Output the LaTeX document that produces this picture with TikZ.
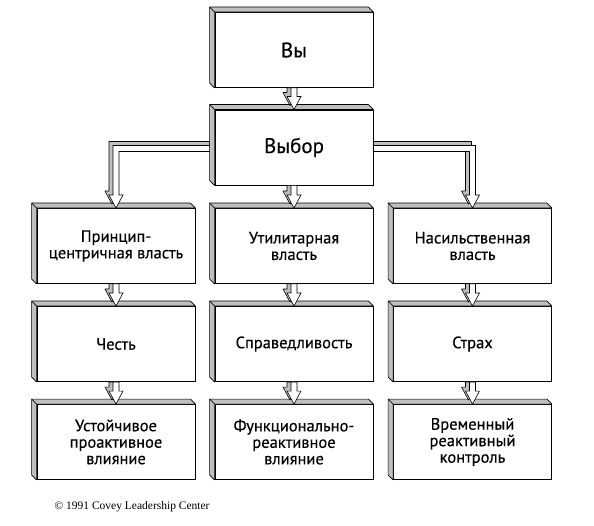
\documentclass[tikz,border=0pt]{standalone}
\usepackage{fontspec}
\setmainfont{PT Sans}
\newfontfamily\notefont{Liberation Serif}
\usetikzlibrary{calc}
\definecolor{shade}{gray}{0.75}
\tikzset{
  card/.style={draw, fill=white, line width=0.9pt, minimum width=158pt, minimum height=75pt,
    inner sep=2pt, align=center, font=\fontsize{16.5}{16.5}\selectfont\addfontfeatures{FakeBold=0.3}},
  bigcard/.style={card, font=\fontsize{21}{22}\selectfont\addfontfeatures{FakeBold=0.3}},
  bevel/.style={draw, fill=shade, line width=0.6pt, line join=round},
  face/.style={draw, fill=white, line width=0.6pt}
}
\begin{document}
\begin{tikzpicture}[x=1pt, y=1pt]
  \useasboundingbox (0,0) rectangle (594,525);

  % You and the choice
  \node[bigcard] (you) at (294,475) {Вы};
  \node[bigcard] (choice) at (294,377.5) {Выбор};

  % Three kinds of power
  \node[card] (princ) at (116,279) {Принцип-\\центричная власть};
  \node[card] (util) at (294,279) {Утилитарная\\власть};
  \node[card] (force) at (472.5,279) {Насильственная\\власть};

  % What the followers feel
  \node[card] (honor) at (116,181) {Честь};
  \node[card] (justice) at (294,181) {Справедливость};
  \node[card] (fear) at (472.5,181) {Страх};

  % Result
  \node[card] (proact) at (116,83) {Устойчивое\\проактивное\\влияние};
  \node[card] (funct) at (294,83) {Функционально-\\реактивное\\влияние};
  \node[card] (control) at (472.5,83) {Временный\\реактивный\\контроль};

  % Raised edges of the boxes
  \foreach \n in {you, choice, princ, util, force, honor, justice, fear, proact, funct, control} {
    \filldraw[bevel] (\n.north west) -- ++(-5,5) -- ([shift={(-5,5)}]\n.north east) -- (\n.north east) -- cycle;
    \filldraw[bevel] (\n.north west) -- ++(-5,5) -- ([shift={(-5,5)}]\n.south west) -- (\n.south west) -- cycle;
  }

  % Straight hollow arrows
  \foreach \a/\b in {you/choice, choice/util, princ/honor, util/justice, force/fear,
                     honor/proact, justice/funct, fear/control} {
    \coordinate (s) at (\a.south);
    \coordinate (t) at (\b.north);
    \filldraw[bevel] ($(s)+(-7,0)$) -- ($(t)+(-7,17)$) -- ($(t)+(-11,17)$) -- ($(t)+(-4,4)$)
      -- ($(t)+(3,17)$) -- ($(t)+(-1,17)$) -- ($(s)+(-1,0)$) -- cycle;
    \filldraw[face] ($(s)+(-3,0)$) -- ($(t)+(-3,13)$) -- ($(t)+(-7,13)$) -- (t)
      -- ($(t)+(7,13)$) -- ($(t)+(3,13)$) -- ($(s)+(3,0)$) -- cycle;
  }

  % Bent arrow to the left column
  \coordinate (s) at ($(choice.west)+(-5,-1)$);
  \coordinate (t) at (princ.north);
  \coordinate (c) at (t |- s);
  \filldraw[bevel] ($(s)+(0,7)$) -- ($(c)+(-7,7)$) -- ($(t)+(-7,17)$) -- ($(t)+(-11,17)$)
    -- ($(t)+(-4,4)$) -- ($(t)+(3,17)$) -- ($(t)+(-1,17)$) -- ($(c)+(-1,1)$) -- ($(s)+(0,1)$) -- cycle;
  \filldraw[face] ($(s)+(0,3)$) -- ($(c)+(-3,3)$) -- ($(t)+(-3,13)$) -- ($(t)+(-7,13)$) -- (t)
    -- ($(t)+(7,13)$) -- ($(t)+(3,13)$) -- ($(c)+(3,-3)$) -- ($(s)+(0,-3)$) -- cycle;

  % Bent arrow to the right column
  \coordinate (s) at ($(choice.east)+(0,-1)$);
  \coordinate (t) at (force.north);
  \coordinate (c) at (t |- s);
  \filldraw[bevel] ($(s)+(0,7)$) -- ($(c)+(-1,7)$) -- ($(t)+(-1,17)$) -- ($(t)+(3,17)$)
    -- ($(t)+(-4,4)$) -- ($(t)+(-11,17)$) -- ($(t)+(-7,17)$) -- ($(c)+(-7,1)$) -- ($(s)+(0,1)$) -- cycle;
  \filldraw[face] ($(s)+(0,3)$) -- ($(c)+(3,3)$) -- ($(t)+(3,13)$) -- ($(t)+(7,13)$) -- (t)
    -- ($(t)+(-7,13)$) -- ($(t)+(-3,13)$) -- ($(c)+(-3,-3)$) -- ($(s)+(0,-3)$) -- cycle;

  % Source line
  \node[anchor=west, font=\notefont\fontsize{11.5}{13}\selectfont] (note) at (51,18) {© 1991 Covey Leadership Center};
\end{tikzpicture}
\end{document}
